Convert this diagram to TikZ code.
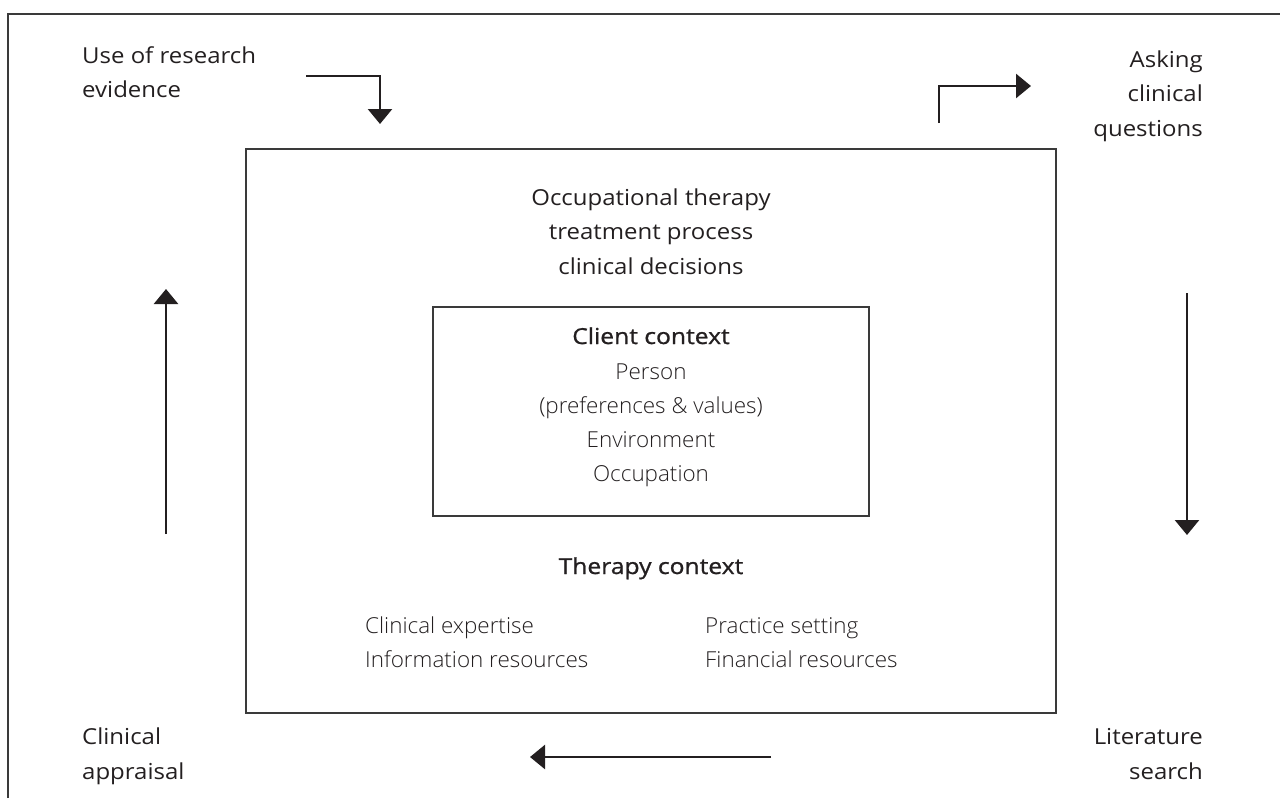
\documentclass[tikz,border=0pt]{standalone}
\usepackage{fontspec}
\setmainfont[FakeStretch=1.09]{Open Sans}
\IfFontExistsTF{Open Sans Light}{\newfontfamily\lightf[FakeStretch=1.02]{Open Sans Light}}{\newfontfamily\lightf{Open Sans}}
\IfFontExistsTF{Open Sans SemiBold}{\newfontfamily\semif[FakeStretch=1.12]{Open Sans SemiBold}}{\newfontfamily\semif[FakeBold=1,FakeStretch=1.12]{Open Sans}}
\usetikzlibrary{arrows.meta}
\definecolor{ink}{HTML}{231F20}
\definecolor{rule}{HTML}{3A3A3A}
\tikzset{
  frameline/.style={draw=rule, line width=1.3pt},
  boxline/.style={draw=rule, line width=1.3pt},
  flow/.style={draw=ink, line width=2.6pt, -{Triangle[length=15pt,width=24pt]}},
  lbl/.style={font=\fontsize{22}{34.5}\selectfont, text=ink, inner sep=0pt},
  lite/.style={font=\lightf\fontsize{22}{34}\selectfont, text=ink, inner sep=0pt},
  head/.style={font=\semif\fontsize{22}{34}\selectfont, text=ink, inner sep=0pt}
}
\begin{document}
\begin{tikzpicture}[x=1pt,y=-1pt]
\useasboundingbox (0,0) rectangle (1280,798);
% partial outer frame
\coordinate (fbl) at (8,798);
\coordinate (ftl) at (8,14);
\coordinate (ftr) at (1280,14);
\draw[frameline] (fbl) -- (ftl) -- (ftr);

% boxes
\node[boxline, minimum width=810pt, minimum height=564pt, inner sep=0pt] (outer) at (651,431) {};
\node[boxline, minimum width=436pt, minimum height=209pt, inner sep=0pt] (inner) at (651,411.5) {};

% outer box text (base anchor = last line's baseline)
\node[lbl, align=center, anchor=base] (ot) at (651,274) {Occupational therapy\\treatment process\\clinical decisions};

% client context
\node[head, anchor=base] (cc) at (651,344) {Client context};
\node[lite, align=center, anchor=base] (ccl) at (651,481) {Person\\(preferences \& values)\\Environment\\Occupation};

% therapy context
\node[head, anchor=base] (tc) at (651,574) {Therapy context};
\node[lite, align=left, anchor=base west] (tcl) at (365,667) {Clinical expertise\\Information resources};
\node[lite, align=left, anchor=base west] (tcr) at (705,667) {Practice setting\\Financial resources};

% corner labels
\node[lbl, align=left, anchor=base west] (ure) at (82,97.5) {Use of research\\evidence};
\node[lbl, align=right, anchor=base east] (acq) at (1203,136) {Asking\\clinical\\questions};
\node[lbl, align=left, anchor=base west] (ca) at (82,779) {Clinical\\appraisal};
\node[lbl, align=right, anchor=base east] (ls) at (1203,779) {Literature\\search};

% arrows
\coordinate (a1s) at (306,76);
\coordinate (a1c) at (380,76);
\coordinate (a1e) at (380,124);
\draw[flow] (a1s) -- (a1c) -- (a1e);

\coordinate (a2s) at (939,123);
\coordinate (a2c) at (939,86);
\coordinate (a2e) at (1031,86);
\draw[flow] (a2s) -- (a2c) -- (a2e);

\coordinate (a3s) at (1187,293);
\coordinate (a3e) at (1187,535);
\draw[flow] (a3s) -- (a3e);

\coordinate (a4s) at (771,757);
\coordinate (a4e) at (530,757);
\draw[flow] (a4s) -- (a4e);

\coordinate (a5s) at (166,534);
\coordinate (a5e) at (166,289);
\draw[flow] (a5s) -- (a5e);
\end{tikzpicture}
\end{document}
